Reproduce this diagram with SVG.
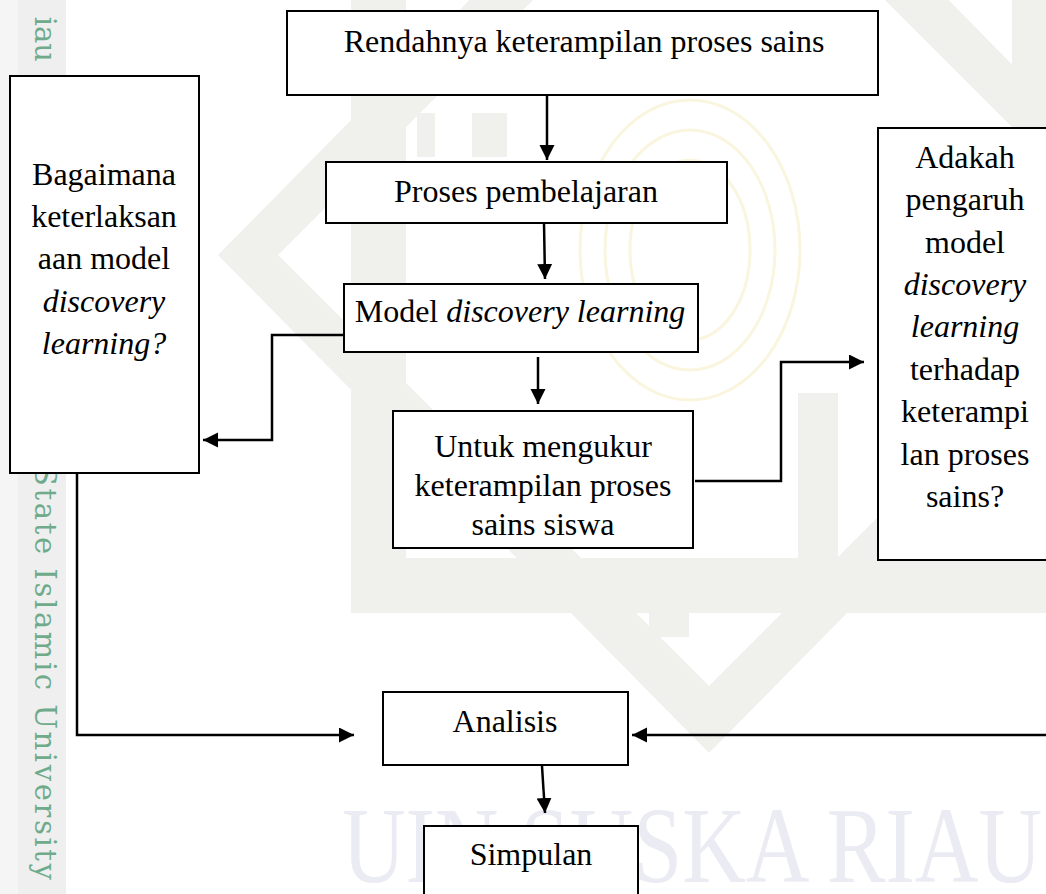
<svg xmlns="http://www.w3.org/2000/svg" width="1046" height="894" viewBox="0 0 1046 894">
  <style>
    .wm { fill: #f0f0ec; }
    .box { fill: #ffffff; stroke: #000000; stroke-width: 2; }
    .t { font-family: "Liberation Serif", "Times New Roman", serif; font-size: 32px; fill: #000000; text-anchor: middle; }
    .i { font-style: italic; }
    .conn { fill: none; stroke: #000000; stroke-width: 2.5; stroke-linejoin: miter; stroke-linecap: butt; }
    .side { font-family: "DejaVu Serif", serif; font-size: 29px; fill: #6fab8b; }
    .uin { font-family: "Liberation Serif", "Times New Roman", serif; font-size: 108px; fill: #ebebf3; }
  </style>
  <defs>
    <marker id="arrow" markerUnits="userSpaceOnUse" markerWidth="16" markerHeight="16" refX="15" refY="7.5" orient="auto">
      <path d="M0,0 L15,7.5 L0,15 Z" fill="#000000"/>
    </marker>
  </defs>

  <rect x="0" y="0" width="1046" height="894" fill="#ffffff"/>

  <!-- watermark -->
  <g id="watermark">
    <rect x="0" y="0" width="66" height="894" fill="#f5f5f5"/>
    <rect x="18" y="0" width="48" height="894" fill="#efefef"/>
    <g fill="none" stroke="#faf5de" stroke-width="3">
      <ellipse cx="690" cy="250" rx="110" ry="150"/>
      <ellipse cx="690" cy="250" rx="85" ry="120"/>
      <ellipse cx="690" cy="250" rx="60" ry="90"/>
    </g>
    <path class="wm" fill-rule="evenodd" d="M351,-103 H1067 V613 H351 Z M406,-48 H1012 V558 H406 Z"/>
    <path class="wm" fill-rule="evenodd" d="M218,255 L709,-243 L1200,255 L709,753 Z M278,255 L709,-176 L1140,255 L709,686 Z"/>
    <rect class="wm" x="417" y="113" width="18" height="44"/>
    <rect class="wm" x="472" y="113" width="35" height="44"/>
    <rect class="wm" x="798" y="393" width="40" height="174"/>
    <rect class="wm" x="649" y="567" width="40" height="70"/>
    <text class="side" transform="translate(35,62) rotate(90)" text-anchor="end">iau</text>
    <text class="side" transform="translate(35,466) rotate(90)" textLength="414" lengthAdjust="spacing">State Islamic University</text>
    <text class="uin" x="342" y="882" textLength="700" lengthAdjust="spacingAndGlyphs">UIN SUSKA RIAU</text>
  </g>

  <!-- connectors -->
  <g id="connectors">
    <path class="conn" d="M547,96 L547,160" marker-end="url(#arrow)"/>
    <path class="conn" d="M544,223 L545,279" marker-end="url(#arrow)"/>
    <path class="conn" d="M344,335 L272,335 L272,440 L203,440" marker-end="url(#arrow)"/>
    <path class="conn" d="M538,357 L538,404" marker-end="url(#arrow)"/>
    <path class="conn" d="M695,481 L781,481 L781,362 L864,362" marker-end="url(#arrow)"/>
    <path class="conn" d="M77,473 L77,735 L354,735" marker-end="url(#arrow)"/>
    <path class="conn" d="M1048,735 L632,735" marker-end="url(#arrow)"/>
    <path class="conn" d="M542,766 L545,813" marker-end="url(#arrow)"/>
  </g>

  <g id="node-rendahnya">
    <rect class="box" x="287" y="11" width="591" height="84"/>
    <text class="t" x="584" y="52">Rendahnya keterampilan proses sains</text>
  </g>

  <g id="node-proses">
    <rect class="box" x="326" y="162" width="401" height="61"/>
    <text class="t" x="526" y="202">Proses pembelajaran</text>
  </g>

  <g id="node-model">
    <rect class="box" x="344" y="284" width="354" height="68"/>
    <text class="t" x="520" y="322">Model <tspan class="i">discovery learning</tspan></text>
  </g>

  <g id="node-untuk">
    <rect class="box" x="393" y="411" width="300" height="137"/>
    <text class="t" x="543" y="457">Untuk mengukur</text>
    <text class="t" x="543" y="496">keterampilan proses</text>
    <text class="t" x="543" y="535">sains siswa</text>
  </g>

  <g id="node-bagaimana">
    <rect class="box" x="10" y="76" width="189" height="397"/>
    <text class="t" x="104" y="185">Bagaimana</text>
    <text class="t" x="104" y="227">keterlaksan</text>
    <text class="t" x="104" y="269">aan model</text>
    <text class="t i" x="104" y="312">discovery</text>
    <text class="t i" x="104" y="354">learning?</text>
  </g>

  <g id="node-adakah">
    <rect class="box" x="878" y="128" width="180" height="432"/>
    <text class="t" x="965" y="168">Adakah</text>
    <text class="t" x="965" y="210">pengaruh</text>
    <text class="t" x="965" y="253">model</text>
    <text class="t i" x="965" y="295">discovery</text>
    <text class="t i" x="965" y="337">learning</text>
    <text class="t" x="965" y="380">terhadap</text>
    <text class="t" x="965" y="422">keterampi</text>
    <text class="t" x="965" y="465">lan proses</text>
    <text class="t" x="965" y="507">sains?</text>
  </g>

  <g id="node-analisis">
    <rect class="box" x="383" y="692" width="245" height="73"/>
    <text class="t" x="505" y="732">Analisis</text>
  </g>

  <g id="node-simpulan">
    <rect class="box" x="424" y="826" width="214" height="100"/>
    <text class="t" x="531" y="865">Simpulan</text>
  </g>
</svg>
